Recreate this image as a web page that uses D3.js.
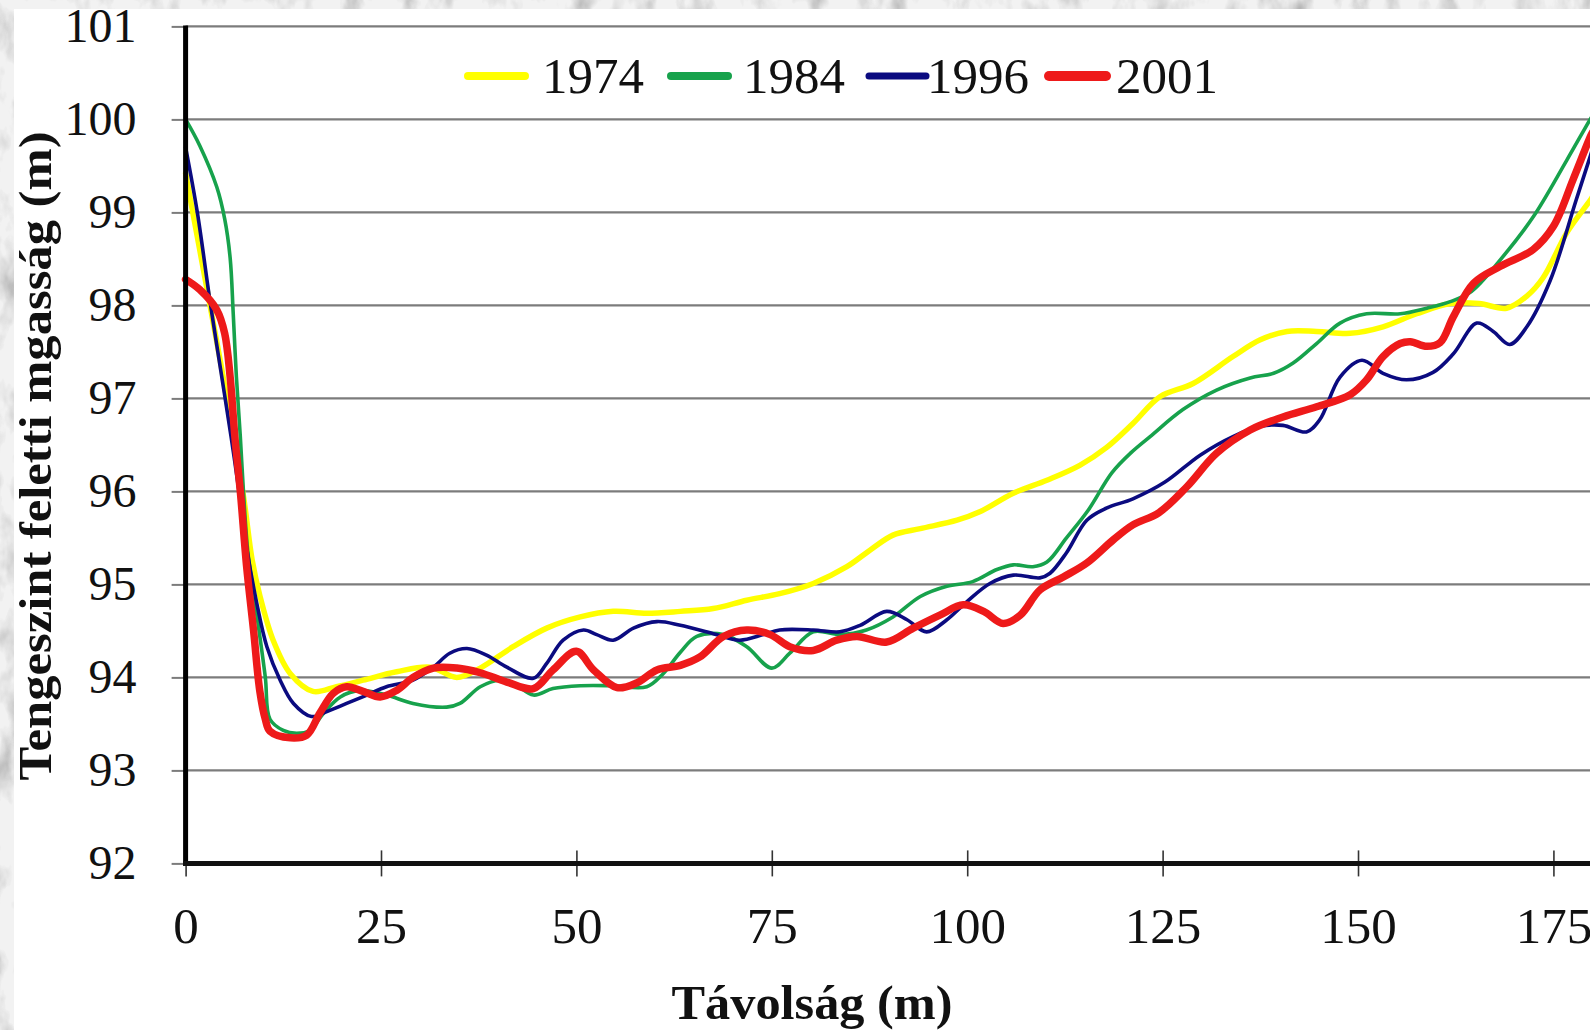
<!DOCTYPE html>
<html>
<head>
<meta charset="utf-8">
<script src="https://cdn.jsdelivr.net/npm/d3@7"></script>
<style>
  html, body { margin: 0; padding: 0; background: #fff; }
  svg { display: block; }
  text { font-family: "Liberation Serif", "Times New Roman", serif; fill: #111; }
</style>
</head>
<body>
<svg id="chart" width="1590" height="1030"></svg>
<script>
// Cross-section profiles: distance (m) and elevation above sea level (m)
const seriesNames = ["1974", "1984", "1996", "2001"];

const distance1974 = [0, 1.8, 3.5, 4.8, 6.1, 7.4, 8.5, 9.5, 11.2, 13.4, 16.3, 19.3, 22.7, 27, 31.3, 34.7, 37.7, 41.9, 46.2, 50.5, 54.7, 59, 63.3, 67.5, 71.8, 76, 80.3, 84.6, 87.6, 90.5, 94, 98.7, 101.6, 105.9, 110.2, 114.4, 117.8, 121.2, 124.7, 128.9, 134, 137.5, 140.9, 144.7, 149, 153.2, 157.5, 161.8, 165.5, 169, 171.6, 173.7, 176.7, 179.7, 180];
const elevation1974 = [99.42, 98.6, 97.83, 97.23, 96.55, 95.95, 95.27, 94.88, 94.4, 94.04, 93.85, 93.9, 93.97, 94.06, 94.11, 94.0, 94.1, 94.33, 94.53, 94.65, 94.71, 94.69, 94.71, 94.74, 94.83, 94.9, 95.01, 95.19, 95.37, 95.53, 95.6, 95.69, 95.78, 95.98, 96.12, 96.28, 96.47, 96.73, 97.02, 97.16, 97.45, 97.63, 97.72, 97.72, 97.7, 97.77, 97.91, 98.02, 98.02, 97.97, 98.1, 98.3, 98.78, 99.13, 99.17];

const distance1984 = [0, 1.8, 4.0, 5.0, 5.7, 6.1, 6.5, 7.0, 7.4, 8.0, 9.1, 10.2, 10.8, 12.5, 14.2, 15.9, 17.6, 19.8, 22.3, 25.7, 29.1, 33.4, 35.1, 37.7, 40.2, 41.9, 44.5, 47, 50.5, 54.7, 59, 61.1, 63.3, 65.4, 68.8, 71.8, 75, 77.3, 80.3, 83.7, 87.1, 90.5, 94, 97.4, 100.7, 103.8, 105.9, 108.4, 110.2, 112.7, 115.5, 118.5, 121, 123.4, 127.6, 131.9, 136.2, 139.2, 141.7, 144.7, 147.7, 151.1, 155.4, 158.8, 161.8, 164.5, 168.2, 172.4, 176.7, 179.7, 180];
const elevation1984 = [100.0, 99.72, 99.27, 98.93, 98.51, 97.9, 97.23, 96.59, 96.0, 95.32, 94.68, 94.0, 93.55, 93.43, 93.4, 93.43, 93.61, 93.79, 93.86, 93.81, 93.72, 93.68, 93.72, 93.9, 93.97, 93.94, 93.81, 93.88, 93.91, 93.91, 93.9, 94.04, 94.27, 94.44, 94.46, 94.33, 94.1, 94.26, 94.49, 94.46, 94.51, 94.65, 94.87, 94.98, 95.03, 95.16, 95.21, 95.19, 95.24, 95.5, 95.8, 96.2, 96.42, 96.59, 96.88, 97.09, 97.22, 97.27, 97.38, 97.59, 97.81, 97.91, 97.91, 97.97, 98.04, 98.15, 98.49, 98.95, 99.56, 100.0, 100.04];

const distance1996 = [0, 1.5, 3.2, 4.5, 5.8, 7.0, 7.8, 9.1, 10.4, 12.1, 13.8, 16.1, 18, 20.6, 23.2, 25.7, 29.1, 31.7, 33.8, 36, 38.5, 41.1, 44.5, 46.2, 48.3, 50.9, 52.6, 54.7, 57.3, 60.3, 63.3, 67.5, 70.9, 73.9, 76, 80.3, 83.7, 86.3, 89.7, 92.3, 94.8, 97.4, 99.9, 102.9, 105.9, 109.3, 110.6, 112.7, 115.3, 117.8, 121.2, 125.3, 129.8, 134, 137.5, 140.4, 143.4, 145.1, 147.7, 150.5, 153.2, 156.2, 159.6, 162.2, 165.2, 167.3, 169.4, 171.6, 174.6, 177.9, 179.7, 180];
const elevation1996 = [99.7, 99.0, 98.0, 97.3, 96.6, 95.9, 95.4, 94.8, 94.33, 93.97, 93.72, 93.58, 93.63, 93.72, 93.81, 93.9, 93.97, 94.11, 94.26, 94.31, 94.24, 94.11, 93.99, 94.15, 94.4, 94.51, 94.46, 94.4, 94.53, 94.6, 94.56, 94.47, 94.4, 94.46, 94.51, 94.51, 94.49, 94.56, 94.71, 94.62, 94.49, 94.62, 94.81, 95.01, 95.1, 95.07, 95.12, 95.34, 95.69, 95.82, 95.92, 96.1, 96.39, 96.59, 96.7, 96.71, 96.64, 96.77, 97.23, 97.41, 97.27, 97.2, 97.28, 97.48, 97.81, 97.72, 97.58, 97.77, 98.27, 99.13, 99.6, 99.68];

const distance2001 = [0, 1.8, 4.0, 5.0, 5.7, 6.3, 7.0, 7.8, 8.7, 9.5, 10.2, 10.8, 13.4, 15.5, 17.2, 18.9, 20.6, 22.7, 24.9, 27, 29.1, 31.7, 34.7, 37.7, 41.1, 44.5, 47, 50, 52.2, 55.2, 57.7, 60.3, 63.3, 65.8, 68.8, 71.8, 74.8, 77.3, 80.3, 83.3, 85.9, 89.7, 93.1, 96.5, 99.5, 102.1, 104.6, 106.8, 109.3, 112.3, 115.3, 118.7, 121.2, 124.5, 128.1, 131.9, 136.2, 140.4, 144.7, 149, 151.1, 153.2, 155.4, 156.7, 158.8, 160.5, 162.2, 164.8, 168.2, 172.4, 175, 177.5, 179.7, 180];
const elevation2001 = [98.28, 98.17, 97.95, 97.7, 97.23, 96.59, 96.0, 95.2, 94.5, 93.85, 93.55, 93.42, 93.35, 93.38, 93.62, 93.83, 93.9, 93.85, 93.79, 93.86, 94.0, 94.1, 94.1, 94.05, 93.95, 93.88, 94.08, 94.28, 94.08, 93.89, 93.94, 94.08, 94.13, 94.22, 94.44, 94.51, 94.46, 94.33, 94.29, 94.4, 94.44, 94.38, 94.53, 94.67, 94.78, 94.71, 94.58, 94.67, 94.94, 95.08, 95.23, 95.48, 95.64, 95.77, 96.05, 96.41, 96.66, 96.8, 96.91, 97.04, 97.2, 97.45, 97.59, 97.61, 97.56, 97.6, 97.88, 98.24, 98.42, 98.6, 98.85, 99.35, 99.81, 99.86];

const yTickValues = [92, 93, 94, 95, 96, 97, 98, 99, 100, 101];
const xTickValues = [0, 25, 50, 75, 100, 125, 150, 175];
const xAxisTitle = "Távolság (m)";
const yAxisTitle = "Tengeszint feletti mgasság (m)";

// Series table built from the arrays above
const profiles = [
  { name: seriesNames[0], d: distance1974, e: elevation1974 },
  { name: seriesNames[1], d: distance1984, e: elevation1984 },
  { name: seriesNames[2], d: distance1996, e: elevation1996 },
  { name: seriesNames[3], d: distance2001, e: elevation2001 }
].map(s => ({ name: s.name, points: s.d.map((d, i) => ({ d, e: s.e[i] })) }));

// Appearance
const lineStyle = {
  "1974": { color: "#ffff00", width: 5.5, legendWidth: 8 },
  "1984": { color: "#17a24c", width: 3.6, legendWidth: 8 },
  "1996": { color: "#0b0b80", width: 3.6, legendWidth: 7 },
  "2001": { color: "#ee1a1a", width: 7.5, legendWidth: 10 }
};

const W = 1590, H = 1030;
const svg = d3.select("#chart");

// Textured grey backdrop with a white chart panel over it
const defs = svg.append("defs");
const tex = defs.append("filter").attr("id", "stone")
  .attr("x", 0).attr("y", 0).attr("width", "100%").attr("height", "100%");
tex.append("feTurbulence").attr("type", "fractalNoise")
  .attr("baseFrequency", "0.035 0.02").attr("numOctaves", 4).attr("seed", 7).attr("result", "n");
tex.append("feColorMatrix").attr("type", "matrix")
  .attr("values", "0.9 0.9 0 0 0.05  0.9 0.9 0 0 0.05  0.9 0.9 0 0 0.05  0 0 0 0 1");
svg.append("rect").attr("width", W).attr("height", H).attr("fill", "#a8a8a8");
svg.append("rect").attr("width", W).attr("height", H).attr("filter", "url(#stone)").attr("opacity", 0.85);
svg.append("rect").attr("x", 14).attr("y", 9).attr("width", W - 14).attr("height", H - 9).attr("fill", "#fff");

// Scales
const x = d3.scaleLinear().domain([0, 180]).range([185.6, 1592.5]);
const y = d3.scaleLinear().domain([92, 101]).range([863.4, 26.4]);

// Horizontal gridlines
svg.append("g").selectAll("line")
  .data(yTickValues.filter(v => v > 92))
  .join("line")
  .attr("x1", x(0)).attr("x2", W)
  .attr("y1", d => y(d)).attr("y2", d => y(d))
  .attr("stroke", "#7c7c7c").attr("stroke-width", 2.2);

// Y axis: outer ticks and labels
const yAxis = svg.append("g")
  .attr("transform", `translate(${x(0)},0)`)
  .call(d3.axisLeft(y).tickValues(yTickValues).tickFormat(d3.format("d")).tickSize(14).tickPadding(35));
yAxis.select(".domain").remove();
yAxis.selectAll(".tick line").attr("stroke", "#7c7c7c").attr("stroke-width", 2);
yAxis.selectAll(".tick text").attr("font-size", 48).attr("fill", "#111")
  .attr("font-family", "Liberation Serif, Times New Roman, serif");

// X axis: crossing ticks and labels
const xAxis = svg.append("g")
  .attr("transform", `translate(0,${y(92)})`)
  .call(d3.axisBottom(x).tickValues(xTickValues).tickFormat(d3.format("d")).tickSize(0).tickPadding(43));
xAxis.select(".domain").remove();
xAxis.selectAll(".tick").append("line")
  .attr("y1", -13).attr("y2", 13).attr("stroke", "#333").attr("stroke-width", 1.6);
xAxis.selectAll(".tick text").attr("font-size", 51).attr("fill", "#111")
  .attr("font-family", "Liberation Serif, Times New Roman, serif");

// Profile lines
const line = d3.line()
  .x(p => x(p.d))
  .y(p => y(p.e))
  .curve(d3.curveCatmullRom.alpha(0.5));

svg.append("g").selectAll("path")
  .data(profiles)
  .join("path")
  .attr("d", s => line(s.points))
  .attr("fill", "none")
  .attr("stroke", s => lineStyle[s.name].color)
  .attr("stroke-width", s => lineStyle[s.name].width)
  .attr("stroke-linejoin", "round")
  .attr("stroke-linecap", "round");

// Axis lines drawn on top
svg.append("line")
  .attr("x1", x(0)).attr("x2", x(0))
  .attr("y1", y(101) - 1).attr("y2", y(92) + 2.5)
  .attr("stroke", "#000").attr("stroke-width", 5);
svg.append("line")
  .attr("x1", x(0) - 2.5).attr("x2", W)
  .attr("y1", y(92)).attr("y2", y(92))
  .attr("stroke", "#111").attr("stroke-width", 5);

// Legend
const legendX = [468, 671, 869, 1049];
const legendTextGap = [17, 15, 1, 10];
const legend = svg.append("g").selectAll("g")
  .data(profiles)
  .join("g")
  .attr("transform", (s, i) => `translate(${legendX[i]},76)`);
legend.append("line")
  .attr("x1", 0).attr("x2", 57).attr("y1", 0).attr("y2", 0)
  .attr("stroke", s => lineStyle[s.name].color)
  .attr("stroke-width", s => lineStyle[s.name].legendWidth)
  .attr("stroke-linecap", "round");
legend.append("text")
  .attr("x", (s, i) => 57 + legendTextGap[i])
  .attr("y", 17)
  .attr("font-size", 51)
  .text(s => s.name);

// Axis titles
svg.append("text")
  .attr("x", 812).attr("y", 1019)
  .attr("text-anchor", "middle")
  .attr("font-size", 48).attr("font-weight", "bold")
  .attr("textLength", 281).attr("lengthAdjust", "spacingAndGlyphs")
  .text(xAxisTitle);

svg.append("text")
  .attr("transform", "translate(51,456) rotate(-90)")
  .attr("text-anchor", "middle")
  .attr("font-size", 47).attr("font-weight", "bold")
  .attr("textLength", 649).attr("lengthAdjust", "spacingAndGlyphs")
  .text(yAxisTitle);
</script>
</body>
</html>
